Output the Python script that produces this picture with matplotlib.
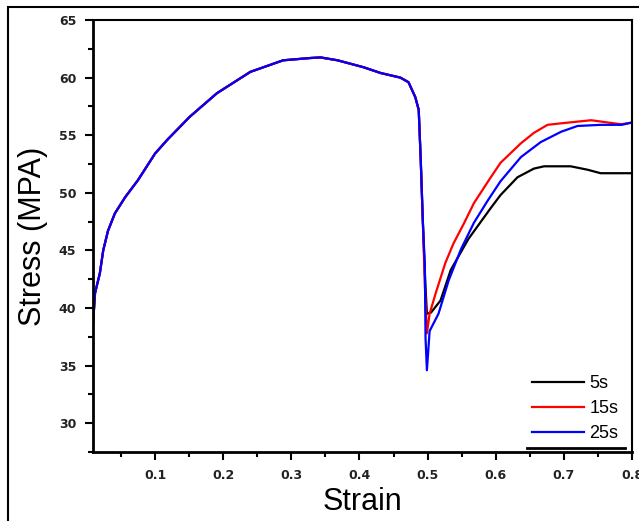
import matplotlib
matplotlib.use("Agg")
import matplotlib.pyplot as plt
from matplotlib.lines import Line2D
from matplotlib.patches import Rectangle
from matplotlib.ticker import MultipleLocator

# shared loading curve (all three samples overlap before the drop)
common_strain = [0.009, 0.012, 0.019, 0.024, 0.031, 0.041, 0.056, 0.075, 0.100, 0.118,
                 0.151, 0.191, 0.240, 0.288, 0.328, 0.343, 0.368, 0.406, 0.431, 0.460,
                 0.472, 0.482, 0.487, 0.490]
common_stress = [38.6, 41.3, 43.0, 45.0, 46.7, 48.2, 49.6, 51.1, 53.4, 54.6,
                 56.6, 58.65, 60.5, 61.5, 61.7, 61.75, 61.5, 60.9, 60.4, 60.0,
                 59.6, 58.3, 57.2, 52.8]

# after the drop
s5_strain = [0.493, 0.496, 0.499, 0.505, 0.519, 0.534, 0.560, 0.593, 0.607, 0.632,
             0.656, 0.671, 0.710, 0.735, 0.754, 0.800]
s5_stress = [47.6, 43.0, 39.5, 39.6, 40.65, 43.3, 46.0, 48.7, 49.8, 51.35,
             52.1, 52.3, 52.3, 52.0, 51.7, 51.7]

s15_strain = [0.493, 0.496, 0.499, 0.503, 0.512, 0.526, 0.538, 0.553, 0.568, 0.590,
              0.607, 0.637, 0.656, 0.676, 0.691, 0.740, 0.765, 0.784, 0.800]
s15_stress = [47.6, 42.0, 37.8, 39.5, 41.3, 43.9, 45.6, 47.3, 49.1, 51.1,
              52.6, 54.3, 55.2, 55.9, 56.0, 56.3, 56.1, 55.95, 56.1]

s25_strain = [0.493, 0.496, 0.497, 0.499, 0.503, 0.516, 0.531, 0.549, 0.568, 0.588,
              0.607, 0.637, 0.666, 0.696, 0.720, 0.754, 0.785, 0.800]
s25_stress = [47.6, 43.7, 37.4, 34.6, 38.0, 39.5, 42.4, 45.1, 47.4, 49.3,
              51.0, 53.1, 54.4, 55.3, 55.8, 55.9, 55.9, 56.1]

labels = ["5s", "15s", "25s"]
colors = ["black", "red", "blue"]

x_ticks = [0.1, 0.2, 0.3, 0.4, 0.5, 0.6, 0.7, 0.8]
y_ticks = [30, 35, 40, 45, 50, 55, 60, 65]

fig = plt.figure(figsize=(6.39, 5.21), dpi=100)
ax = fig.add_axes([93/639, 1-452/521, (632-93)/639, (452-20)/521])

series = [(s5_strain, s5_stress), (s15_strain, s15_stress), (s25_strain, s25_stress)]
for (xs, ys), lab, c in zip(series, labels, colors):
    ax.plot(common_strain + xs, common_stress + ys, color=c, lw=1.6, label=lab)

ax.set_xlim(0.009, 0.8)
ax.set_ylim(27.5, 65)
ax.set_xticks(x_ticks)
ax.set_yticks(y_ticks)
ax.xaxis.set_minor_locator(MultipleLocator(0.05))
ax.yaxis.set_minor_locator(MultipleLocator(2.5))
ax.tick_params(which="major", direction="out", length=6, width=1.5, labelsize=9, pad=6)
ax.tick_params(which="minor", direction="out", length=3.5, width=1.5)
for lab in ax.get_xticklabels() + ax.get_yticklabels():
    lab.set_fontweight("bold")
    lab.set_color("#222222")
for side in ["left", "bottom"]:
    ax.spines[side].set_linewidth(2)
for side in ["top", "right"]:
    ax.spines[side].set_linewidth(1.5)

ax.set_xlabel("Strain", fontsize=22, family="Liberation Sans", labelpad=4)
ax.set_ylabel("Stress (MPA)", fontsize=22, family="Liberation Sans", labelpad=8)

leg = ax.legend(loc="lower right", bbox_to_anchor=(0.975, 0.022), frameon=False,
                handlelength=2.9, handletextpad=0.3, labelspacing=0.45,
                borderaxespad=0, borderpad=0,
                prop={"family": "Liberation Sans", "size": 13})
ax.add_line(Line2D([0.805, 0.987], [0.009, 0.009], transform=ax.transAxes,
                   color="black", lw=2, clip_on=False))

fig.patches.append(Rectangle((8/639, -0.1), 2, 1 - 7/521 + 0.1, transform=fig.transFigure,
                             fill=False, edgecolor="black", lw=1.5))

fig.savefig("out.png", dpi=100)
